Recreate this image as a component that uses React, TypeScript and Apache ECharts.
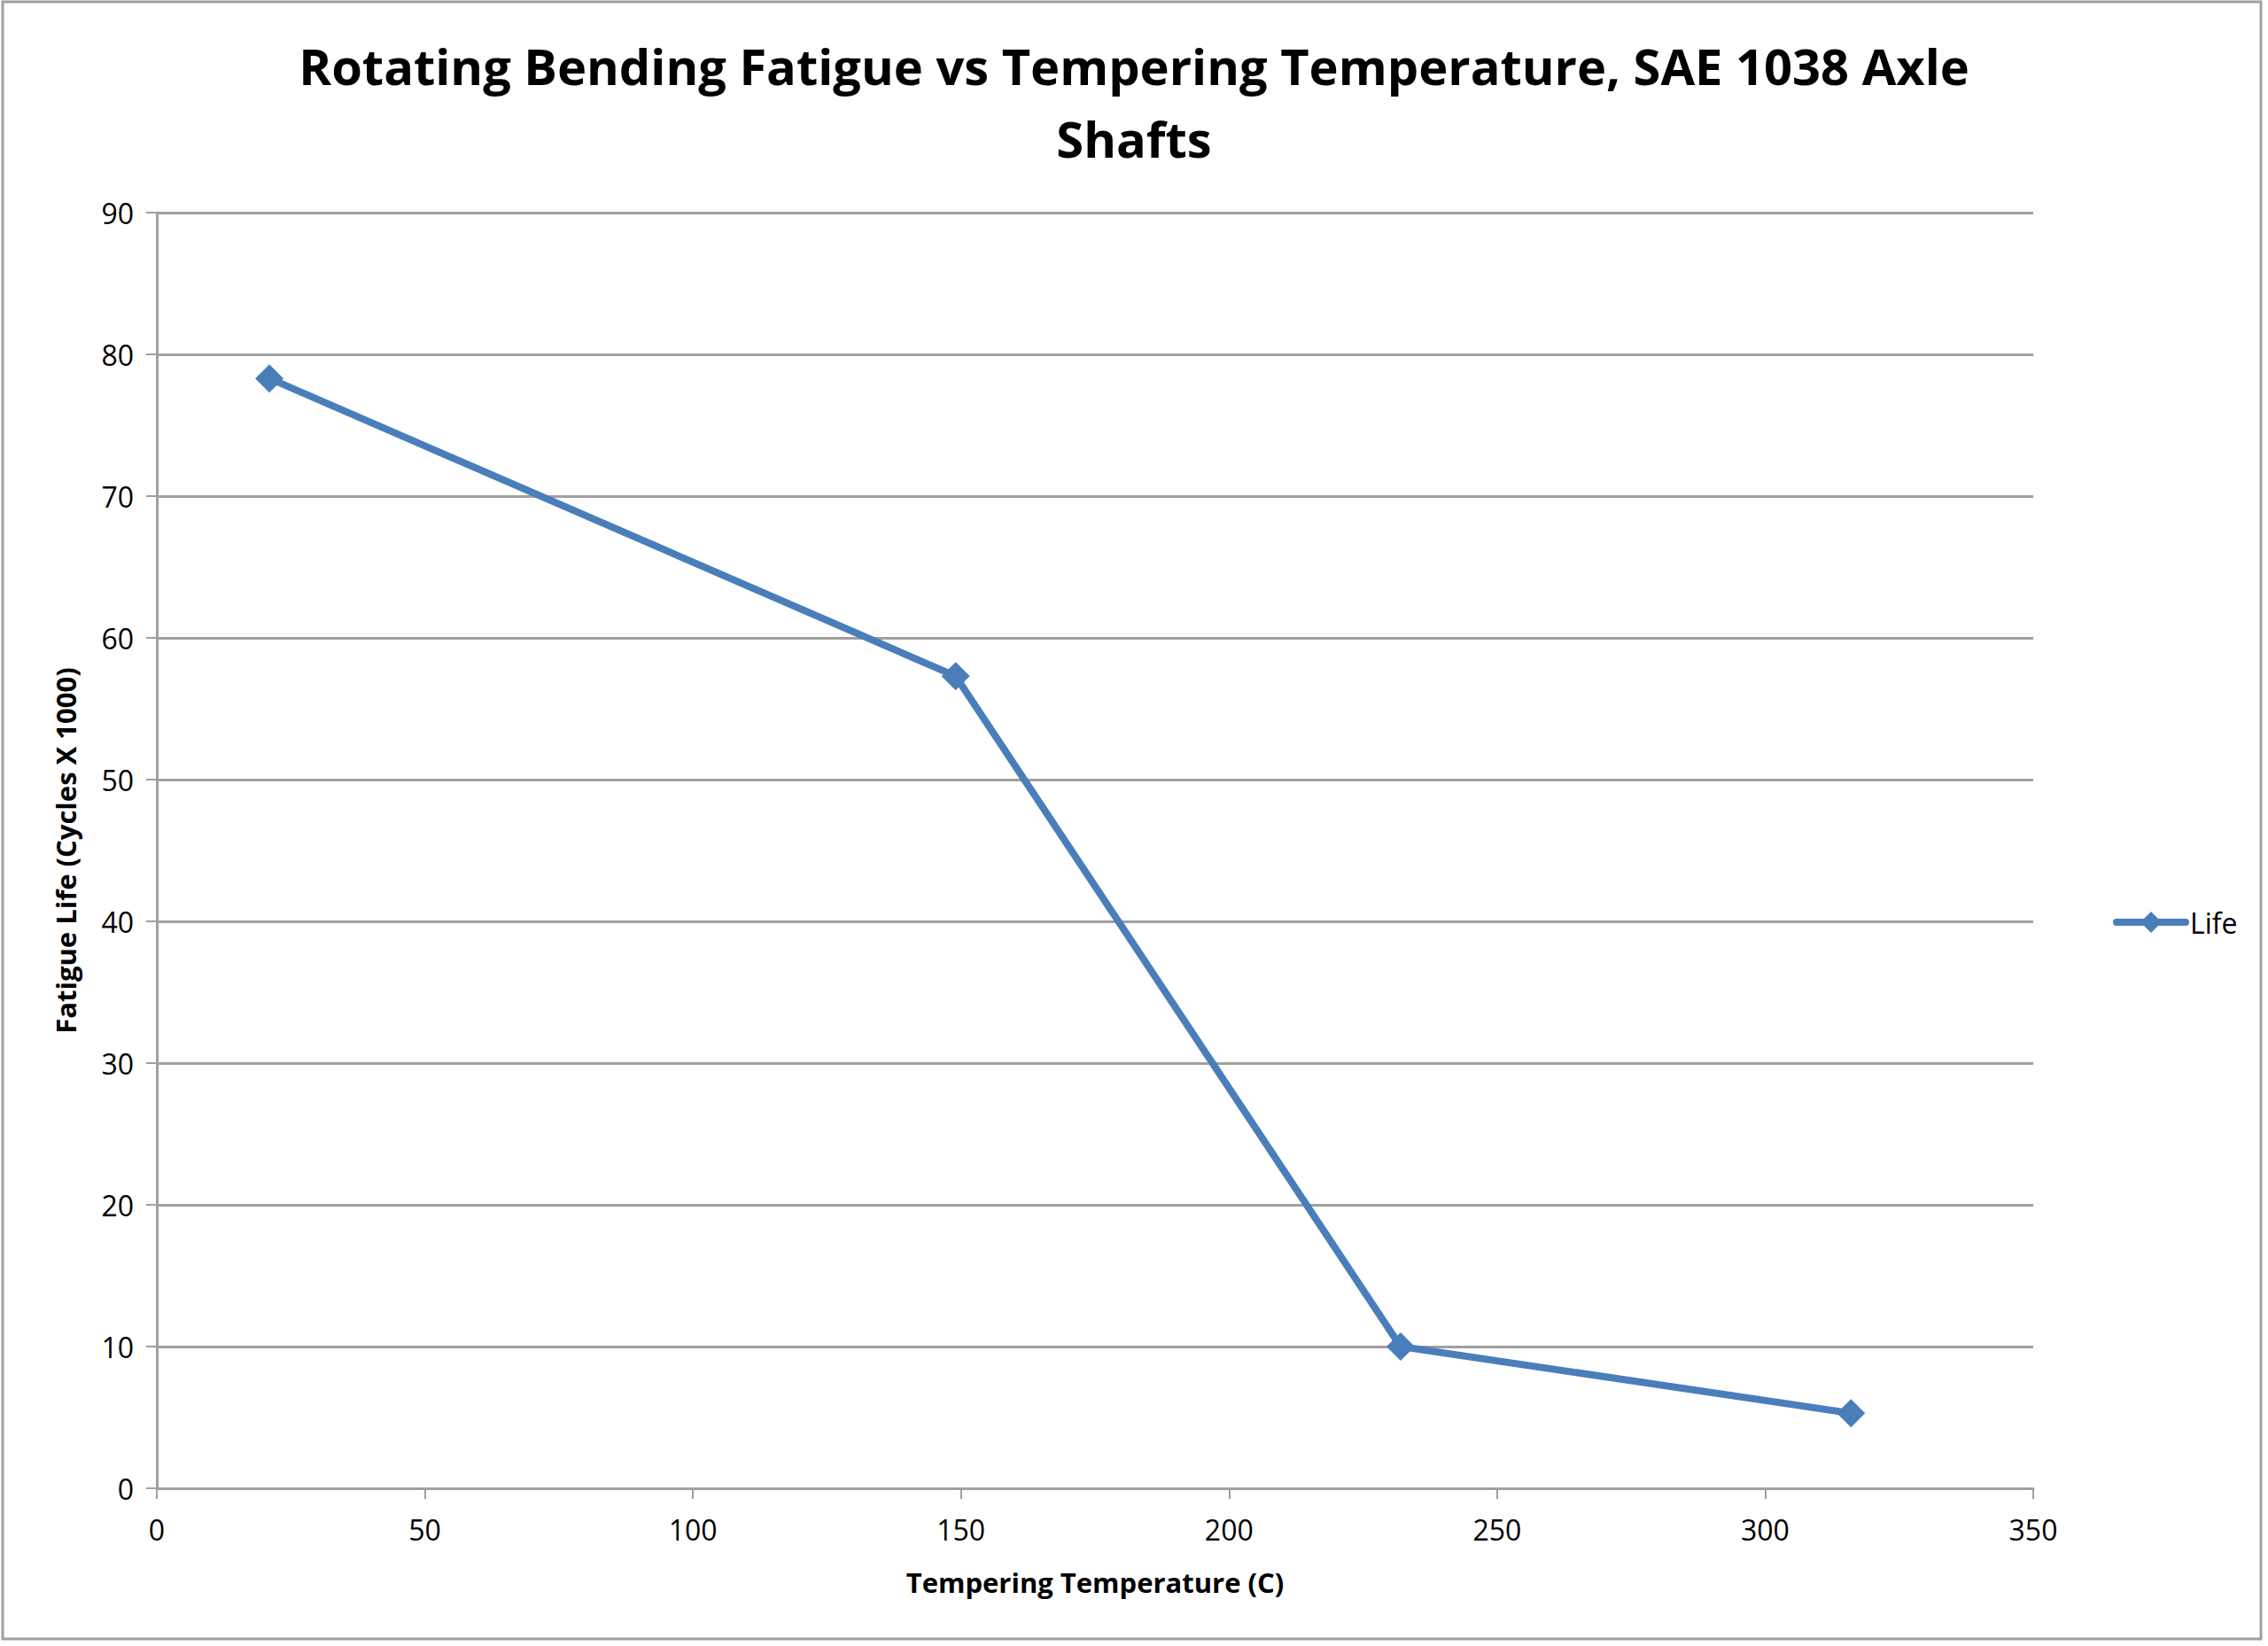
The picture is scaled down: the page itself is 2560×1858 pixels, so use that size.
import React, { useEffect, useRef } from 'react';
import * as echarts from 'echarts';

const TITLE = 'Rotating Bending Fatigue vs Tempering Temperature, SAE 1038 Axle\nShafts';
const X_NAME = 'Tempering Temperature (C)';
const Y_NAME = 'Fatigue Life (Cycles X 1000)';
const SERIES_NAME = 'Life';

// tempering temperature (C)
const temperatures = [21, 149, 232, 316];
// fatigue life (cycles x 1000)
const lifeValues = [78.3, 57.3, 10.0, 5.3];

const FONT = "'Open Sans', 'Noto Sans', sans-serif";
const LINE_COLOR = '#4A7EBB';
const GRID_COLOR = '#A0A0A0';

export default function App() {
  const chartRef = useRef<HTMLDivElement>(null);

  useEffect(() => {
    if (!chartRef.current) return;
    const chart = echarts.init(chartRef.current, undefined, { renderer: 'svg' });

    chart.setOption({
      animation: false,
      backgroundColor: '#FFFFFF',
      textStyle: { fontFamily: FONT },
      title: {
        text: TITLE,
        left: 'center',
        top: 28,
        textStyle: {
          fontFamily: FONT,
          fontSize: 56,
          fontWeight: 'bold',
          color: '#000000',
          lineHeight: 82,
        },
      },
      graphic: [
        {
          type: 'rect',
          shape: { x: 3, y: 2, width: 2549, height: 1848 },
          style: { fill: 'none', stroke: '#A0A0A0', lineWidth: 3 },
          silent: true,
        },
      ],
      legend: {
        left: 2380,
        top: 1020,
        itemWidth: 78,
        itemHeight: 30,
        itemGap: 10,
        textStyle: { fontFamily: FONT, fontSize: 32, color: '#000000' },
        lineStyle: { width: 8, cap: 'round' },
        data: [SERIES_NAME],
      },
      grid: {
        left: 177,
        right: 265,
        top: 240,
        bottom: 178,
        containLabel: false,
      },
      xAxis: {
        type: 'value',
        min: 0,
        max: 350,
        interval: 50,
        name: X_NAME,
        nameLocation: 'middle',
        nameGap: 90,
        nameTextStyle: { fontFamily: FONT, fontSize: 31, fontWeight: 'bold', color: '#000000' },
        axisLine: { show: true, lineStyle: { color: GRID_COLOR, width: 3 } },
        axisTick: { show: true, length: 12, lineStyle: { color: GRID_COLOR, width: 2 } },
        axisLabel: { fontFamily: FONT, fontSize: 32, color: '#000000', margin: 30 },
        splitLine: { show: false },
      },
      yAxis: {
        type: 'value',
        min: 0,
        max: 90,
        interval: 10,
        name: Y_NAME,
        nameLocation: 'middle',
        nameGap: 88,
        nameTextStyle: { fontFamily: FONT, fontSize: 31, fontWeight: 'bold', color: '#000000' },
        axisLine: { show: true, lineStyle: { color: GRID_COLOR, width: 3 } },
        axisTick: { show: true, length: 12, lineStyle: { color: GRID_COLOR, width: 2 } },
        axisLabel: { fontFamily: FONT, fontSize: 32, color: '#000000', margin: 26 },
        splitLine: { show: true, lineStyle: { color: GRID_COLOR, width: 3 } },
      },
      series: [
        {
          name: SERIES_NAME,
          type: 'line',
          data: temperatures.map((t, i) => [t, lifeValues[i]]),
          symbol: 'diamond',
          symbolSize: 32,
          lineStyle: { color: LINE_COLOR, width: 8, cap: 'round', join: 'round' },
          itemStyle: { color: LINE_COLOR },
        },
      ],
    });

    return () => {
      chart.dispose();
    };
  }, []);

  return (
    <div
      ref={chartRef}
      style={{ position: 'fixed', left: 0, top: 0, width: 2560, height: 1858 }}
    />
  );
}
